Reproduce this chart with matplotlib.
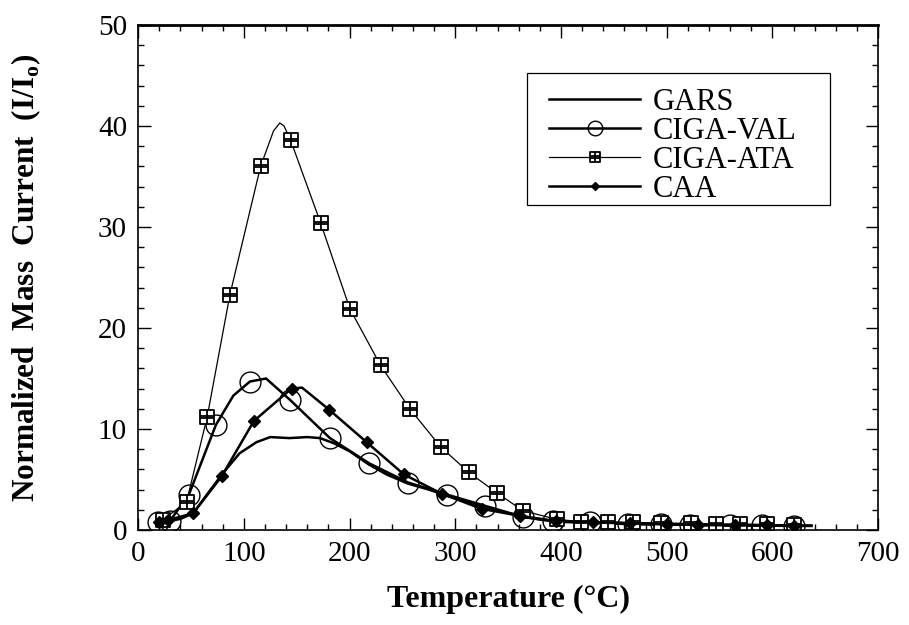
import matplotlib
matplotlib.use("Agg")
import matplotlib.pyplot as plt
from matplotlib.path import Path
from matplotlib.patches import Rectangle
from matplotlib.ticker import MultipleLocator

plt.rcParams['font.family'] = ['Liberation Serif', 'DejaVu Serif']
plt.rcParams['mathtext.fontset'] = 'custom'
plt.rcParams['mathtext.rm'] = 'Liberation Serif'
plt.rcParams['mathtext.bf'] = 'Liberation Serif:bold'

# ---- data ----
gars_x = [20, 30, 40, 52, 65, 80, 96, 112, 125, 143, 160, 172, 185, 200, 218, 235, 255, 275, 292,
          310, 328, 346, 364, 382, 400, 430, 460, 500, 540, 580, 620, 637]
gars_y = [0.8, 0.9, 1.1, 1.65, 3.5, 5.6, 7.6, 8.7, 9.2, 9.1, 9.2, 9.1, 8.6, 7.8, 6.5, 5.5, 4.6, 4.0, 3.4,
          2.8, 2.3, 1.8, 1.3, 1.0, 0.8, 0.7, 0.6, 0.55, 0.5, 0.45, 0.45, 0.45]

val_x = [19, 30, 48, 73.5, 90, 105.7, 121, 143.5, 181.4, 218.6, 255.4, 292.4, 328, 364, 392, 427, 463,
         495, 522, 560, 590, 620, 637]
val_y = [0.8, 0.9, 3.5, 10.4, 13.3, 14.7, 15.0, 12.9, 9.1, 6.6, 4.7, 3.5, 2.4, 1.3, 0.9, 0.75, 0.6,
         0.55, 0.5, 0.45, 0.45, 0.4, 0.4]
val_marks = [0, 1, 2, 3, 5, 7, 8, 9, 10, 11, 12, 13, 14, 15, 16, 17, 18, 19, 20, 21]

ata_x = [23.4, 45.8, 65.3, 86.8, 115.8, 128, 134, 138, 144.2, 172.6, 200.3, 229.3, 257, 286.4, 312.9,
         339, 364.2, 395.8, 418.8, 444.7, 468, 495, 523, 547, 569, 595, 620]
ata_y = [1.0, 2.8, 11.2, 23.3, 36.0, 39.5, 40.3, 40.0, 38.6, 30.4, 21.9, 16.3, 12.0, 8.2, 5.7,
         3.7, 1.9, 1.06, 0.82, 0.82, 0.75, 0.7, 0.65, 0.6, 0.6, 0.55, 0.5]
ata_marks = [0, 1, 2, 3, 4, 8, 9, 10, 11, 12, 13, 14, 15, 16, 17, 18, 19, 20, 21, 22, 23, 24, 25, 26]

caa_x = [20, 28.4, 52, 78.9, 109.5, 145.1, 155, 180.8, 216.1, 251.4, 287, 324.9, 361, 395, 430, 465,
         500, 530, 565, 595, 620]
caa_y = [0.8, 1.0, 1.65, 5.3, 10.8, 14.0, 14.1, 11.9, 8.7, 5.5, 3.6, 2.1, 1.4, 0.9, 0.75, 0.65,
         0.55, 0.5, 0.45, 0.45, 0.4]
caa_marks = [0, 1, 2, 3, 4, 5, 7, 8, 9, 10, 11, 12, 13, 14, 15, 16, 17, 18, 19, 20]

labels = ["GARS", "CIGA-VAL", "CIGA-ATA", "CAA"]
x_ticks = [0, 100, 200, 300, 400, 500, 600, 700]
y_ticks = [0, 10, 20, 30, 40, 50]

# square-with-cross marker
sq_verts = [(-1, -1), (1, -1), (1, 1), (-1, 1), (-1, -1),
            (-1, 0.15), (1, 0.15), (-1, -0.15), (1, -0.15),
            (0, -1), (0, 1)]
sq_codes = [Path.MOVETO, Path.LINETO, Path.LINETO, Path.LINETO, Path.CLOSEPOLY,
            Path.MOVETO, Path.LINETO, Path.MOVETO, Path.LINETO,
            Path.MOVETO, Path.LINETO]
sq_marker = Path(sq_verts, sq_codes)

fig = plt.figure(figsize=(9.09, 6.25), dpi=100)
ax = fig.add_axes([0.152, 0.152, 0.814, 0.808])

ax.plot(gars_x, gars_y, color='black', lw=1.8, label=labels[0])
ax.plot(val_x, val_y, color='black', lw=1.8, marker='o', markersize=15, markerfacecolor='none',
        markeredgewidth=1.0, markevery=val_marks, label=labels[1])
ax.plot(ata_x, ata_y, color='black', lw=0.9, marker=sq_marker, markersize=10, markerfacecolor='white',
        markeredgewidth=1.3, markevery=ata_marks, label=labels[2])
ax.plot(caa_x, caa_y, color='black', lw=1.8, marker='D', markersize=6.5, markerfacecolor='black',
        markevery=caa_marks, label=labels[3])

ax.set_xlim(0, 700)
ax.set_ylim(0, 50)
ax.set_xticks(x_ticks)
ax.set_yticks(y_ticks)
ax.xaxis.set_minor_locator(MultipleLocator(20))
ax.yaxis.set_minor_locator(MultipleLocator(2))
ax.tick_params(which='both', direction='in', top=True, right=True, labelsize=21)
ax.tick_params(axis='x', which='both', pad=8)
ax.tick_params(axis='y', which='both', pad=8)
ax.tick_params(which='major', length=9, width=1.0)
ax.tick_params(which='minor', length=4.5, width=1.0)
for s in ax.spines.values():
    s.set_linewidth(1.2)
ax.spines['top'].set_linewidth(2.0)

ax.set_xlabel("Temperature (°C)", fontsize=23, fontweight='bold')
ax.set_ylabel(r"Normalized  Mass  Current  (I/I$_{\mathbf{o}}$)", fontsize=22.5, fontweight='bold')
ax.xaxis.set_label_coords(0.5, -0.108)
ax.yaxis.set_label_coords(-0.128, 0.5)

# legend (frame drawn separately)
ax.add_patch(Rectangle((0.526, 0.644), 0.409, 0.261, transform=ax.transAxes, fill=False,
                       edgecolor='black', lw=0.9, zorder=4))
leg = ax.legend(loc='upper left', bbox_to_anchor=(0.555, 0.875), fontsize=22, frameon=False,
                handlelength=3.0, handletextpad=0.4, labelspacing=0.0, borderpad=0.0,
                borderaxespad=0.0)
for h in leg.get_lines():
    h.set_markersize(h.get_markersize() * 0.7)

fig.savefig("out.png", dpi=100)
